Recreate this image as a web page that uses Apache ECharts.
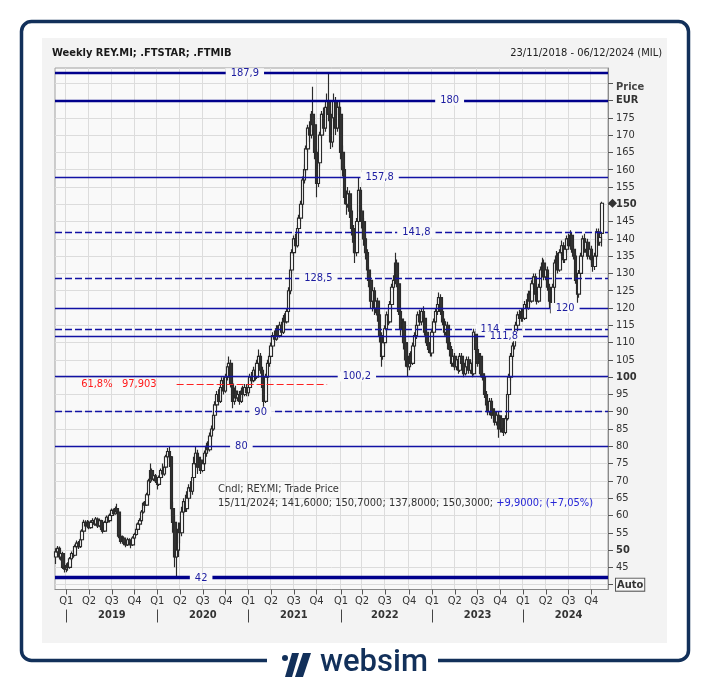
<!DOCTYPE html>
<html><head><meta charset="utf-8">
<script src="https://cdn.jsdelivr.net/npm/echarts@6/dist/echarts.min.js"></script>
<style>html,body{margin:0;padding:0;background:#fff}#c{width:710px;height:681px}</style>
</head><body><div id="c"></div>
<script>
// ---- data: weekly candles [open, close, low, high] ----
const ohlc2018 = [
[48.0,49.5,46.0,50.5],[49.5,50.5,48.5,51.2],[50.5,48.0,47.3,51.0],[48.0,49.0,47.0,50.0],[49.0,45.0,44.5,49.5],[45.0,44.5,43.5,46.0]];
const ohlc2019 = [
[44.5,45.5,43.6,46.2],[45.5,45.0,44.0,46.5],[45.0,47.5,44.6,48.0],[47.5,49.0,47.0,49.6],[49.0,48.5,47.8,50.0],
[48.5,51.0,48.2,51.6],[51.0,52.0,50.4,52.8],[52.0,51.0,50.3,52.6],[51.0,53.0,50.6,53.5],[53.0,55.5,52.6,56.0],
[55.5,58.0,55.0,58.8],[58.0,57.0,56.2,58.6],[57.0,58.0,56.5,58.7],[58.0,56.5,56.0,58.5],[56.5,58.0,56.2,58.6],
[58.0,58.5,57.3,59.2],[58.5,57.5,57.0,59.0],[57.5,59.0,57.0,59.6],[59.0,57.0,56.4,59.4],[57.0,58.5,56.6,59.0],
[58.5,56.0,55.4,58.8],[56.0,55.5,54.8,56.6],[55.5,58.0,55.2,58.5],[58.0,59.5,57.6,60.0],[59.5,58.5,58.0,60.2],
[58.5,60.0,58.0,60.6],[60.0,61.5,59.6,62.0],[61.5,60.5,60.0,62.0],[60.5,62.0,60.2,62.6],[62.0,61.0,60.4,63.4],
[61.0,54.0,53.4,61.5],[54.0,52.5,51.8,54.6],[52.5,53.5,52.0,54.2],[53.5,52.0,51.4,54.0],[52.0,51.5,50.8,52.6],
[51.5,53.0,51.2,53.6],[53.0,52.0,51.5,53.4],[52.0,51.5,50.5,52.4],[51.5,53.5,51.2,54.0],[53.5,54.5,53.0,55.0],
[54.5,56.0,54.2,56.6],[56.0,57.5,55.6,58.0],[57.5,58.5,57.0,59.2],[58.5,61.0,58.2,61.6],[61.0,63.5,60.6,64.0],
[63.5,63.0,62.2,64.2],[63.0,66.0,62.8,66.6],[66.0,70.0,65.6,70.6],[70.0,73.0,69.4,75.0],[73.0,70.5,70.0,73.6],
[70.5,71.5,70.0,72.2],[71.5,70.0,69.4,72.0]];
const ohlc2020 = [
[70.0,69.0,67.5,71.0],[69.0,71.0,68.5,71.6],[71.0,73.0,70.5,73.6],[73.0,72.0,71.2,75.0],[72.0,74.0,71.5,74.6],
[74.0,77.0,73.6,77.6],[77.0,78.5,76.5,79.5],[78.5,77.0,74.0,80.0],[77.0,62.0,60.0,77.2],[62.0,58.0,55.0,64.0],
[58.0,48.0,45.0,60.0],[48.0,50.0,42.0,52.0],[50.0,56.0,48.0,58.0],[56.0,55.0,52.0,58.0],[55.0,61.0,54.0,62.5],
[61.0,64.0,60.0,65.0],[64.0,62.0,61.0,66.0],[62.0,65.0,61.0,67.0],[65.0,68.0,64.0,69.0],[68.0,67.0,65.0,70.0],
[67.0,71.0,66.0,72.0],[71.0,75.0,70.0,77.0],[75.0,78.0,74.0,80.0],[78.0,74.0,72.0,79.0],[74.0,76.0,73.0,77.0],
[76.0,73.0,72.0,77.0],[73.0,75.0,72.5,76.0],[75.0,78.0,74.5,78.8],[78.0,80.0,77.0,81.0],[80.0,79.0,78.0,81.5],
[79.0,83.0,78.5,84.0],[83.0,85.0,82.0,86.0],[85.0,89.0,84.5,90.0],[89.0,92.0,88.0,93.0],[92.0,95.0,91.0,96.0],
[95.0,93.0,92.0,96.5],[93.0,97.0,92.5,98.0],[97.0,99.0,96.0,100.0],[99.0,96.0,95.0,100.0],[96.0,100.0,95.5,101.0],
[100.0,103.0,99.0,104.0],[103.0,104.0,102.0,106.0],[104.0,98.0,97.0,105.0],[98.0,93.0,91.0,99.0],[93.0,96.0,92.0,97.0],
[96.0,94.0,93.0,97.5],[94.0,95.0,93.0,96.0],[95.0,93.0,92.0,96.0],[93.0,96.0,92.5,97.0],[96.0,95.0,94.0,97.5],
[95.0,97.0,94.5,98.0],[97.0,95.5,94.5,98.0]];
const ohlc2021 = [
[95.5,97.0,94.5,98.0],[97.0,100.0,96.5,101.0],[100.0,99.0,98.0,101.5],[99.0,102.0,98.5,103.0],[102.0,100.0,99.0,103.0],
[100.0,104.0,99.5,105.0],[104.0,106.0,103.0,108.0],[106.0,102.0,101.0,107.0],[102.0,97.0,96.0,103.0],[97.0,93.0,91.0,98.0],
[93.0,100.0,92.5,101.0],[100.0,104.0,99.0,105.0],[104.0,106.0,103.0,107.0],[106.0,109.0,105.5,110.0],[109.0,112.0,108.0,113.0],
[112.0,111.0,110.0,113.5],[111.0,114.0,110.5,115.0],[114.0,112.0,111.0,115.0],[112.0,115.0,111.5,116.0],[115.0,113.0,112.0,116.0],
[113.0,117.0,112.5,118.0],[117.0,116.0,115.0,118.5],[116.0,119.0,115.5,120.0],[119.0,125.0,118.5,126.0],[125.0,131.0,124.0,132.0],
[131.0,136.0,130.0,137.0],[136.0,140.0,135.0,141.0],[140.0,138.0,137.0,141.5],[138.0,143.0,137.5,144.0],[143.0,146.0,142.0,147.0],
[146.0,150.0,145.0,151.0],[150.0,157.0,149.0,158.0],[157.0,160.0,156.0,161.5],[160.0,166.0,159.0,167.0],[166.0,172.0,165.0,173.0],
[172.0,170.0,168.0,174.0],[170.0,176.0,169.0,177.0],[176.0,173.0,171.0,184.0],[173.0,165.0,163.0,174.0],[165.0,156.0,152.0,166.0],
[156.0,162.0,155.0,163.0],[162.0,170.0,161.0,171.0],[170.0,176.0,169.0,177.0],[176.0,172.0,170.0,178.0],[172.0,178.0,171.0,179.0],
[178.0,180.0,176.0,182.0],[180.0,176.0,174.0,187.9],[176.0,168.0,166.0,177.0],[168.0,175.0,166.5,176.0],[175.0,180.0,174.0,182.0],
[180.0,172.0,170.0,181.0],[172.0,178.0,171.0,179.5],[178.0,176.0,174.0,180.0]];
const ohlc2022 = [
[176.0,165.0,163.0,178.0],[165.0,160.0,158.0,167.0],[160.0,152.0,150.0,161.0],[152.0,150.0,147.0,154.0],[150.0,153.0,149.0,155.0],
[153.0,148.0,146.0,154.0],[148.0,143.0,141.0,149.0],[143.0,139.0,136.0,144.0],[139.0,136.0,133.0,140.0],[136.0,145.0,135.0,146.0],
[145.0,154.0,144.0,157.8],[154.0,148.0,147.0,155.0],[148.0,145.0,143.0,149.0],[145.0,140.0,138.0,146.0],[140.0,136.0,134.0,141.0],
[136.0,131.0,129.0,137.0],[131.0,128.0,126.0,132.0],[128.0,122.0,120.0,129.0],[122.0,125.0,119.0,126.0],[125.0,120.0,118.0,126.0],
[120.0,122.0,118.5,123.0],[122.0,118.0,116.0,123.0],[118.0,112.0,110.0,119.0],[112.0,106.0,103.0,113.0],[106.0,110.0,105.0,111.0],
[110.0,114.0,109.0,115.0],[114.0,118.0,113.0,119.0],[118.0,116.0,115.0,119.5],[116.0,121.0,115.5,122.0],[121.0,126.0,120.0,127.0],
[126.0,128.0,125.0,129.5],[128.0,133.0,127.0,136.0],[133.0,127.0,126.0,134.0],[127.0,119.0,118.0,128.0],[119.0,114.0,112.0,120.0],
[114.0,116.0,113.0,117.0],[116.0,110.0,108.0,117.0],[110.0,105.0,103.0,111.0],[105.0,103.0,100.2,106.0],[103.0,106.0,102.0,107.0],
[106.0,104.0,103.0,107.5],[104.0,109.0,103.5,110.0],[109.0,112.0,108.0,113.0],[112.0,115.0,111.0,116.0],[115.0,118.0,114.0,119.0],
[118.0,116.0,115.0,119.5],[116.0,119.0,115.0,120.0],[119.0,117.0,116.0,120.5],[117.0,113.0,112.0,118.0],[113.0,110.0,109.0,114.0],
[110.0,108.0,107.0,111.0],[108.0,107.0,106.0,109.0]];
const ohlc2023 = [
[107.0,113.0,106.0,114.0],[113.0,116.0,112.0,117.0],[116.0,119.0,115.0,120.0],[119.0,121.0,118.0,122.5],[121.0,123.0,120.0,124.5],
[123.0,119.0,118.0,124.0],[119.0,116.0,115.0,120.0],[116.0,113.0,112.0,117.0],[113.0,115.0,112.0,116.0],[115.0,110.0,108.0,116.0],
[110.0,108.0,106.0,111.0],[108.0,104.0,103.0,109.0],[104.0,106.0,103.0,107.0],[106.0,103.0,102.0,107.0],[103.0,105.0,102.0,106.0],
[105.0,102.0,101.0,106.0],[102.0,106.0,101.5,107.0],[106.0,104.0,103.0,107.0],[104.0,101.0,100.0,105.0],[101.0,103.0,100.5,104.0],
[103.0,105.0,102.0,106.0],[105.0,102.0,101.0,106.0],[102.0,104.0,101.0,105.0],[104.0,101.0,100.0,105.0],[101.0,113.0,100.5,114.0],
[113.0,108.0,107.0,113.5],[108.0,104.0,103.0,109.0],[104.0,106.0,103.0,107.0],[106.0,101.0,100.0,107.0],[101.0,100.0,99.0,102.0],
[100.0,95.0,94.0,101.0],[95.0,92.0,91.0,96.0],[92.0,90.0,89.0,93.0],[90.0,93.0,89.0,94.0],[93.0,89.0,88.0,94.0],
[89.0,90.0,87.5,91.0],[90.0,87.0,86.0,91.0],[87.0,89.0,86.0,90.0],[89.0,85.0,82.5,90.0],[85.0,88.0,84.0,89.0],
[88.0,85.0,84.0,89.0],[85.0,84.0,83.0,86.0],[84.0,88.0,83.5,89.0],[88.0,95.0,87.5,96.0],[95.0,100.0,94.0,101.0],
[100.0,106.0,99.0,107.0],[106.0,109.0,105.0,110.0],[109.0,112.0,108.0,113.0],[112.0,115.0,111.0,116.0],[115.0,118.0,114.0,119.0],
[118.0,117.0,116.0,119.5],[117.0,119.0,116.0,120.0]];
const ohlc2024 = [
[119.0,117.0,116.0,120.0],[117.0,121.0,116.5,122.0],[121.0,120.0,119.0,122.5],[120.0,124.0,119.5,125.0],[124.0,122.0,121.0,125.0],
[122.0,127.0,121.5,128.0],[127.0,129.0,126.0,130.0],[129.0,124.0,123.0,130.0],[124.0,122.0,121.0,125.0],[122.0,126.0,121.5,127.0],
[126.0,131.0,125.0,132.0],[131.0,133.0,130.0,134.5],[133.0,129.0,128.0,134.0],[129.0,131.0,128.0,132.0],[131.0,126.0,125.0,132.0],
[126.0,122.0,121.0,127.0],[122.0,120.0,118.5,123.0],[120.0,126.0,119.5,127.0],[126.0,133.0,125.0,134.0],[133.0,135.0,132.0,136.5],
[135.0,131.0,130.0,136.0],[131.0,136.0,130.5,137.0],[136.0,138.0,135.0,139.5],[138.0,134.0,133.0,139.0],[134.0,137.0,133.0,138.0],
[137.0,140.0,136.0,141.0],[140.0,138.0,137.0,141.5],[138.0,141.0,137.5,142.5],[141.0,137.0,136.0,142.0],[137.0,135.0,134.0,138.0],
[135.0,128.0,127.0,136.0],[128.0,124.0,121.5,129.0],[124.0,130.0,123.0,131.0],[130.0,135.0,129.0,136.0],[135.0,140.0,134.0,141.0],
[140.0,137.0,136.0,141.5],[137.0,139.0,136.0,140.0],[139.0,135.0,134.0,140.0],[135.0,137.0,134.0,138.0],[137.0,134.0,133.0,138.0],
[134.0,132.0,130.5,135.0],[132.0,135.0,131.0,136.0],[135.0,142.0,134.0,143.0],[142.0,139.0,138.0,143.0],[139.0,140.4,138.0,141.5],
[141.6,150.3,137.8,150.7]];

// ---- axis / labels ----
const firstWeek = '2018-11-23';
const lastAxisWeek = '2024-12-06';
const quarterNames = ['Q1','Q2','Q3','Q4'];
const yTicks = [40,45,50,55,60,65,70,75,80,85,90,95,100,105,110,115,120,125,130,135,140,145,150,155,160,165,170,175,180,185];
const boldTicks = [50, 100, 150];
const yMin = 38.6, yMax = 189.4;

// ---- horizontal levels ----
const levelValues = [187.9, 180, 157.8, 141.8, 128.5, 120, 114, 111.8, 100.2, 90, 80, 42];
const levelLabels = ['187,9','180','157,8','141,8','128,5','120','114','111,8','100,2','90','80','42'];
const levelLabelDates = ['2020-12-18','2023-03-17','2022-06-10','2022-11-04','2021-10-08','2024-06-21','2023-08-25','2023-10-20','2022-03-11','2021-02-19','2020-12-04','2020-06-26'];
const levelKinds = ['thick','thick','thin','dash','dash','thin','dash','thin','thin','dash','thin','heavy'];
const fibValue = 97.903;
const fibText = '61,8%   97,903';
const fibRange = ['2020-03-20','2021-11-12'];
const fibLabelDate = '2019-08-02';

const titleText = 'Weekly REY.MI; .FTSTAR; .FTMIB';
const rangeText = '23/11/2018 - 06/12/2024 (MIL)';
const infoLine1 = 'Cndl; REY.MI; Trade Price';
const infoLine2a = '15/11/2024; 141,6000; 150,7000; 137,8000; 150,3000; ';
const infoLine2b = '+9,9000; (+7,05%)';

// ---- build ----
const candles = [].concat(ohlc2018, ohlc2019, ohlc2020, ohlc2021, ohlc2022, ohlc2023, ohlc2024);
const weeks = [];
(function(){
  let t = Date.parse(firstWeek + 'T00:00:00Z'); const end = Date.parse(lastAxisWeek + 'T00:00:00Z');
  while (t <= end) { weeks.push(new Date(t).toISOString().slice(0,10)); t += 7*86400000; }
})();
const qOf = w => Math.floor((+w.slice(5,7) - 1) / 3);
const qStart = weeks.map((w,i) => i > 0 && qOf(w) !== qOf(weeks[i-1]));
const yStart = weeks.map((w,i) => i > 0 && w.slice(0,4) !== weeks[i-1].slice(0,4));
const q3Start = weeks.map((w,i) => qStart[i] && qOf(w) === 2);

const FONT = 'DejaVu Sans Condensed, DejaVu Sans, sans-serif';
const NAVY = '#00008c';
const BLUE = '#1212a4';
const PLOTBG = '#f9f9f9';
function lineFor(kind){
  if (kind === 'thick') return {color: NAVY, width: 2.4, type: 'solid'};
  if (kind === 'heavy') return {color: NAVY, width: 3.4, type: 'solid'};
  if (kind === 'dash') return {color: BLUE, width: 1.3, type: [7,3]};
  return {color: BLUE, width: 1.3, type: 'solid'};
}

const markLineData = levelValues.map((v,k) => ({yAxis: v, lineStyle: lineFor(levelKinds[k])}));
markLineData.push([{coord: [fibRange[0], fibValue], lineStyle: {color: '#ff2020', width: 1.2, type: [7,3]}}, {coord: [fibRange[1], fibValue]}]);

const markPointData = levelLabels.map((t,k) => ({
  coord: [levelLabelDates[k], levelValues[k]], value: t,
  label: {formatter: t}
}));
markPointData.push({coord: [fibLabelDate, fibValue], value: fibText,
  label: {formatter: fibText, color: '#ff1a1a', backgroundColor: 'transparent'}});

const chart = echarts.init(document.getElementById('c'), null, {renderer: 'canvas'});
const option = {
  animation: false,
  backgroundColor: '#ffffff',
  textStyle: {fontFamily: FONT},
  grid: {left: 55, top: 68, width: 553, height: 521.5, show: true, backgroundColor: PLOTBG, borderColor: '#a0a0a0', borderWidth: 1},
  xAxis: [{
    type: 'category', data: weeks, boundaryGap: true, position: 'bottom',
    axisLine: {show: true, lineStyle: {color: '#8a8a8a', width: 1}},
    axisTick: {show: true, alignWithLabel: true, length: 5, interval: i => qStart[i], lineStyle: {color: '#555'}},
    axisLabel: {interval: i => qStart[i], formatter: v => quarterNames[qOf(v)], margin: 6, fontSize: 11, color: '#333', fontFamily: FONT},
    splitLine: {show: true, interval: i => qStart[i], lineStyle: {color: '#dcdcdc', width: 1}}
  }, {
    type: 'category', data: weeks, boundaryGap: true, position: 'bottom', offset: 20,
    axisLine: {show: false},
    axisTick: {show: true, alignWithLabel: true, length: 13, interval: i => yStart[i], lineStyle: {color: '#444', width: 1}},
    axisLabel: {interval: i => q3Start[i], formatter: v => v.slice(0,4), margin: 0, fontSize: 11, fontWeight: 'bold', color: '#333', fontFamily: FONT},
    splitLine: {show: false}
  }],
  yAxis: {
    type: 'value', position: 'right', min: yMin, max: yMax,
    axisLine: {show: true, lineStyle: {color: '#8a8a8a'}},
    axisTick: {show: true, length: 5, customValues: yTicks, lineStyle: {color: '#555'}},
    splitLine: {show: true, lineStyle: {color: '#dcdcdc', width: 1}},
    axisLabel: {
      customValues: yTicks,
      margin: 8, fontSize: 11, color: '#333', fontFamily: FONT,
      formatter: v => {
        const r = Math.round(v * 1000) / 1000;
        if (r === 185) return '{p|Price}';
        if (r === 180) return '{b|EUR}';
        if (r === 40) return '{a|Auto}';
        if (boldTicks.indexOf(r) >= 0) return '{b|' + r + '}';
        return String(r);
      },
      rich: {
        b: {fontWeight: 'bold', fontSize: 11, color: '#333', fontFamily: FONT},
        p: {fontWeight: 'bold', fontSize: 11, color: '#444', fontFamily: FONT, padding: [7,0,0,0]},
        a: {fontWeight: 'bold', fontSize: 11, color: '#333', fontFamily: FONT, borderColor: '#555', borderWidth: 1, padding: [1,1,0,1], backgroundColor: '#f7f7f7'}
      }
    }
  },
  series: [{
    type: 'candlestick', xAxisIndex: 0, yAxisIndex: 0, data: candles, barWidth: 3,
    itemStyle: {color: '#ffffff', color0: '#333333', borderColor: '#2a2a2a', borderColor0: '#2a2a2a', borderWidth: 1.15},
    markLine: {silent: true, symbol: ['none','none'], label: {show: false}, z: 5, data: markLineData},
    markPoint: {silent: true, symbol: 'rect', symbolSize: 1, z: 6, itemStyle: {color: 'rgba(0,0,0,0)'},
      label: {show: true, position: 'inside', color: '#1c1ca0', fontSize: 11, lineHeight: 10, fontFamily: FONT, backgroundColor: PLOTBG, padding: [0,5]},
      data: markPointData}
  }],
  graphic: [
    {type: 'rect', z: -20, shape: {x: 21.5, y: 21.5, width: 667, height: 639, r: 10}, style: {fill: '#ffffff', stroke: '#12305a', lineWidth: 3.5}},
    {type: 'rect', z: -19, shape: {x: 42, y: 38, width: 625, height: 605}, style: {fill: '#f3f3f3'}},
    {type: 'rect', z: -18, shape: {x: 267, y: 654, width: 171, height: 14}, style: {fill: '#ffffff'}},
    {type: 'circle', z: 10, shape: {cx: 285, cy: 658, r: 3}, style: {fill: '#12305a'}},
    {type: 'polygon', z: 10, shape: {points: [[292,653],[299,653],[292,677],[285,677]]}, style: {fill: '#12305a'}},
    {type: 'polygon', z: 10, shape: {points: [[303,653],[311,653],[303,677],[295,677]]}, style: {fill: '#12305a'}},
    {type: 'text', z: 10, x: 320, y: 663, style: {text: 'websim', fill: '#12305a', font: '500 31px Roboto, sans-serif', align: 'left', verticalAlign: 'middle'}},
    {type: 'text', z: 10, x: 52, y: 53, style: {text: titleText, fill: '#1a1a1a', font: 'bold 11px ' + FONT, align: 'left', verticalAlign: 'middle'}},
    {type: 'text', z: 10, x: 662, y: 53, style: {text: rangeText, fill: '#222', font: '11px ' + FONT, align: 'right', verticalAlign: 'middle'}},
    {type: 'text', z: 10, x: 218, y: 489, style: {text: infoLine1, fill: '#333', font: '11px ' + FONT, align: 'left', verticalAlign: 'middle'}},
    {type: 'text', z: 10, x: 218, y: 503, style: {text: '{a|' + infoLine2a + '}{b|' + infoLine2b + '}', font: '11px ' + FONT, align: 'left', verticalAlign: 'middle',
      rich: {a: {fill: '#333', font: '11px ' + FONT}, b: {fill: '#2626d6', font: '11px ' + FONT}}}}
  ]
};
chart.setOption(option);
// last-price diamond on the price axis, positioned through the y scale
const lastClose = candles[candles.length - 1][1];
const yPix = chart.convertToPixel({yAxisIndex: 0}, lastClose);
chart.setOption({graphic: option.graphic.concat([
  {type: 'polygon', z: 12, shape: {points: [[612.5, yPix - 4.5],[617, yPix],[612.5, yPix + 4.5],[608, yPix]]}, style: {fill: '#333'}}
])});
</script>
</body></html>
